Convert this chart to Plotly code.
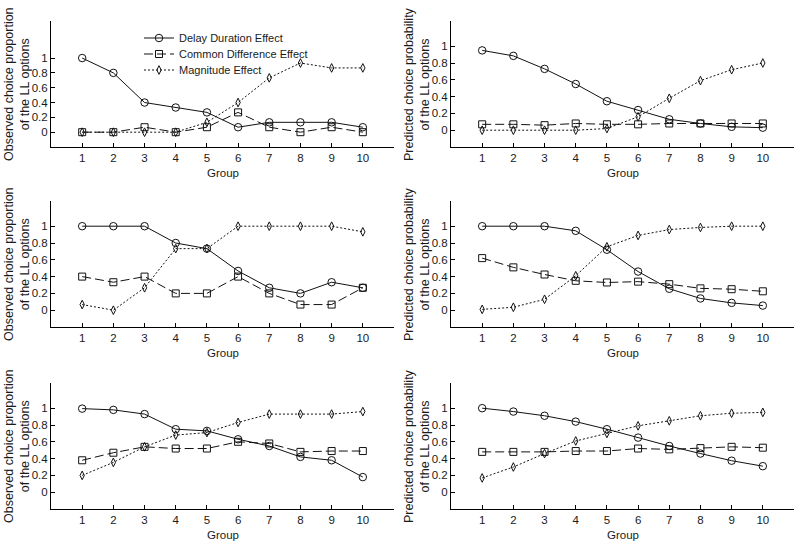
import plotly.graph_objects as go

groups = list(range(1, 11))
series_names = ["Delay Duration Effect", "Common Difference Effect", "Magnitude Effect"]

# Row 1
obs1_delay = [1.0, 0.8, 0.4, 0.333, 0.267, 0.067, 0.133, 0.133, 0.133, 0.067]
obs1_common = [0.0, 0.0, 0.067, 0.0, 0.067, 0.267, 0.067, 0.0, 0.067, 0.0]
obs1_mag = [0.0, 0.0, 0.0, 0.0, 0.133, 0.4, 0.733, 0.933, 0.867, 0.867]
pred1_delay = [0.95, 0.885, 0.73, 0.55, 0.345, 0.24, 0.13, 0.08, 0.04, 0.03]
pred1_common = [0.07, 0.07, 0.06, 0.08, 0.07, 0.07, 0.08, 0.08, 0.08, 0.08]
pred1_mag = [0.0, 0.0, 0.0, 0.0, 0.02, 0.16, 0.38, 0.59, 0.72, 0.80]

# Row 2
obs2_delay = [1.0, 1.0, 1.0, 0.8, 0.733, 0.467, 0.267, 0.2, 0.333, 0.267]
obs2_common = [0.4, 0.333, 0.4, 0.2, 0.2, 0.4, 0.2, 0.067, 0.067, 0.267]
obs2_mag = [0.067, 0.0, 0.267, 0.733, 0.733, 1.0, 1.0, 1.0, 1.0, 0.933]
pred2_delay = [1.0, 1.0, 1.0, 0.945, 0.72, 0.46, 0.255, 0.14, 0.087, 0.055]
pred2_common = [0.62, 0.51, 0.425, 0.35, 0.33, 0.34, 0.31, 0.26, 0.25, 0.225]
pred2_mag = [0.01, 0.035, 0.13, 0.41, 0.755, 0.89, 0.96, 0.985, 1.0, 1.0]

# Row 3
obs3_delay = [0.995, 0.98, 0.93, 0.75, 0.73, 0.63, 0.55, 0.42, 0.38, 0.18]
obs3_common = [0.38, 0.47, 0.54, 0.52, 0.52, 0.60, 0.58, 0.48, 0.49, 0.49]
obs3_mag = [0.20, 0.355, 0.54, 0.68, 0.71, 0.83, 0.93, 0.93, 0.93, 0.96]
pred3_delay = [1.0, 0.96, 0.91, 0.84, 0.75, 0.65, 0.55, 0.46, 0.375, 0.31]
pred3_common = [0.48, 0.48, 0.48, 0.49, 0.49, 0.52, 0.51, 0.525, 0.54, 0.53]
pred3_mag = [0.17, 0.30, 0.46, 0.61, 0.70, 0.79, 0.85, 0.91, 0.94, 0.95]

ytick_vals = [0, 0.2, 0.4, 0.6, 0.8, 1]
ytick_text = ["0", "0.2", "0.4", "0.6", "0.8", "1"]
xtick_vals = groups
xtick_text = [str(g) for g in groups]
x_title = "Group"
obs_title = "Observed choice proportion<br>of the LL options"
pred_title = "Predicted choice probability<br>of the LL options"

panels = [
    (obs1_delay, obs1_common, obs1_mag, [-0.2, 1.5]),
    (pred1_delay, pred1_common, pred1_mag, [-0.2, 1.3]),
    (obs2_delay, obs2_common, obs2_mag, [-0.2, 1.3]),
    (pred2_delay, pred2_common, pred2_mag, [-0.2, 1.3]),
    (obs3_delay, obs3_common, obs3_mag, [-0.2, 1.3]),
    (pred3_delay, pred3_common, pred3_mag, [-0.2, 1.3]),
]

W, H = 800, 547


def fx(px):
    return px / W


def fy(py):
    return 1 - py / H


col_px = [(51, 394), (451, 794)]
row_px = [(21, 147), (201, 327), (383, 509)]

FONT = "Liberation Sans, Arial, sans-serif"
TXT = "#1a1a1a"
LINE = "#111111"
styles = [
    dict(symbol="circle-open", size=7.5, dash="solid"),
    dict(symbol="square-open", size=7, dash="9px,4px"),
    dict(symbol="diamond-tall-open", size=6.2, dash="2px,2px"),
]
legend_keys = ["legend", "legend2", "legend3"]
legend_rows = [38, 54, 70]

fig = go.Figure()
layout = {}
annotations = []
for i, (d, c, m, yr) in enumerate(panels):
    r, cidx = divmod(i, 2)
    n = i + 1
    xa = "x" if n == 1 else f"x{n}"
    ya = "y" if n == 1 else f"y{n}"
    for k, vals in enumerate([d, c, m]):
        st = styles[k]
        fig.add_trace(go.Scatter(
            x=groups, y=vals, mode="lines+markers",
            name=series_names[k], showlegend=(i == 0),
            legend=legend_keys[k],
            xaxis=xa, yaxis=ya,
            line=dict(color=LINE, width=1, dash=st["dash"]),
            marker=dict(symbol=st["symbol"], size=st["size"], color=LINE,
                        line=dict(width=1, color=LINE)),
        ))
    x0, x1 = col_px[cidx]
    y0, y1 = row_px[r]
    xkey = "xaxis" if n == 1 else f"xaxis{n}"
    ykey = "yaxis" if n == 1 else f"yaxis{n}"
    layout[xkey] = dict(
        domain=[fx(x0), fx(x1)], anchor=ya, range=[0, 11],
        tickvals=xtick_vals, ticktext=xtick_text, ticks="inside", ticklen=4,
        tickcolor="black", showline=True, linecolor="black", linewidth=1,
        showgrid=False, zeroline=False, mirror=False,
        tickfont=dict(family=FONT, size=11.5, color=TXT),
    )
    layout[ykey] = dict(
        domain=[fy(y1), fy(y0)], anchor=xa, range=yr,
        tickvals=ytick_vals, ticktext=ytick_text, ticks="inside", ticklen=4,
        tickcolor="black", showline=True, linecolor="black", linewidth=1,
        showgrid=False, zeroline=False, mirror=False,
        tickfont=dict(family=FONT, size=11.5, color=TXT),
    )
    annotations.append(dict(
        text=x_title, xref="paper", yref="paper",
        x=fx((x0 + x1) / 2), y=fy(y1 + 26), xanchor="center", yanchor="middle",
        showarrow=False, font=dict(family=FONT, size=11.5, color=TXT),
    ))
    annotations.append(dict(
        text=obs_title if cidx == 0 else pred_title, xref="paper", yref="paper",
        x=fx(x0 - 34), y=fy((y0 + y1) / 2), xanchor="center", yanchor="middle",
        textangle=-90, showarrow=False,
        font=dict(family=FONT, size=12.5, color=TXT),
    ))

for key, row_y in zip(legend_keys, legend_rows):
    layout[key] = dict(
        x=fx(139), y=fy(row_y), xanchor="left", yanchor="middle",
        bgcolor="rgba(0,0,0,0)", borderwidth=0,
        font=dict(family=FONT, size=11, color=TXT),
        itemwidth=30,
    )

fig.update_layout(
    **layout,
    annotations=annotations,
    width=W, height=H,
    margin=dict(l=0, r=0, t=0, b=0),
    paper_bgcolor="white", plot_bgcolor="white",
    showlegend=True,
)

# remove the default 8px page margin so the 800x547 figure fills the window
fig.write_html("out.html", config={"displayModeBar": False},
               post_script="document.body.style.margin='0px';")
